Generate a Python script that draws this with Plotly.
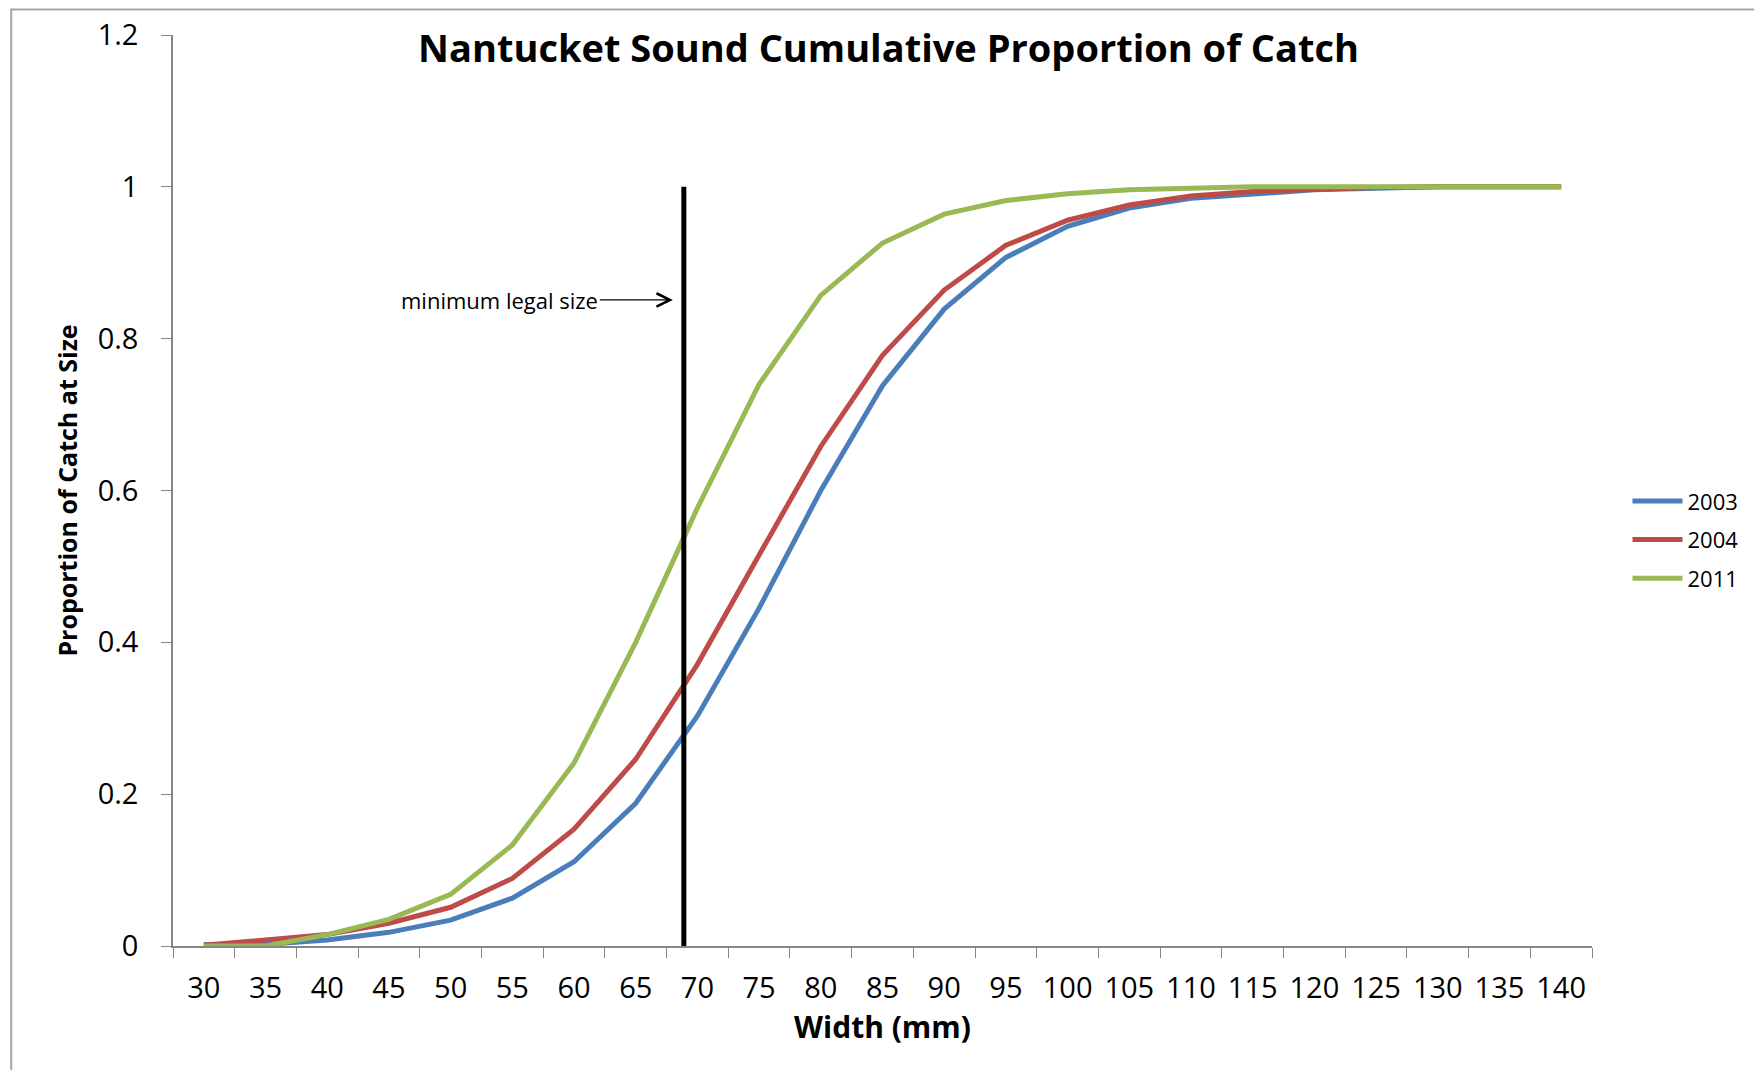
import plotly.graph_objects as go

# ---- data -------------------------------------------------------------
widths_mm = [30, 35, 40, 45, 50, 55, 60, 65, 70, 75, 80, 85, 90, 95, 100,
             105, 110, 115, 120, 125, 130, 135, 140]
tick_labels = [str(w) for w in widths_mm]

prop_2003 = [0.002, 0.002, 0.008, 0.018, 0.034, 0.063, 0.111, 0.188, 0.303,
             0.445, 0.600, 0.738, 0.839, 0.907, 0.948, 0.972, 0.985, 0.991,
             0.996, 0.998, 1.000, 1.000, 1.000]
prop_2004 = [0.001, 0.008, 0.015, 0.030, 0.051, 0.089, 0.154, 0.246, 0.371,
             0.515, 0.658, 0.778, 0.864, 0.923, 0.956, 0.976, 0.988, 0.994,
             0.997, 0.999, 1.000, 1.000, 1.000]
prop_2011 = [0.000, 0.000, 0.015, 0.035, 0.068, 0.133, 0.241, 0.400, 0.577,
             0.740, 0.857, 0.926, 0.964, 0.982, 0.991, 0.996, 0.998, 1.000,
             1.000, 1.000, 1.000, 1.000, 1.000]

series_names = ["2003", "2004", "2011"]
series_values = [prop_2003, prop_2004, prop_2011]
series_colors = ["#4A7EBB", "#BE4B48", "#98B954"]

legal_size_mm = 68.9          # position of the "minimum legal size" marker
legal_label_y = 0.851         # height of the annotation arrow

# category index of the legal-size marker on the category axis
legal_idx = (legal_size_mm - widths_mm[0]) / (widths_mm[1] - widths_mm[0])

FONT = "Open Sans"

fig = go.Figure()
for name, vals, col in zip(series_names, series_values, series_colors):
    fig.add_trace(go.Scatter(
        x=tick_labels, y=vals, mode="lines", name=name, legendgroup=name,
        line=dict(color=col, width=5),
    ))

# vertical legal-size line
fig.add_shape(type="line", xref="x", yref="y", x0=legal_idx, x1=legal_idx,
              y0=-0.013, y1=1.0, line=dict(color="black", width=5))

# annotation with arrow
fig.add_annotation(
    x=legal_idx, y=legal_label_y, xref="x", yref="y",
    text="minimum legal size", showarrow=True,
    ax=-184, ay=0, axref="pixel", ayref="pixel",
    arrowhead=5, arrowsize=2.2, arrowwidth=1.2, arrowcolor="black",
    standoff=11, font=dict(family=FONT, size=22, color="black"),
)

# outer chart border
fig.add_shape(type="rect", xref="paper", yref="paper",
              x0=-0.114, x1=1.13, y0=-0.15, y1=1.028,
              line=dict(color="#A6A6A6", width=2), layer="below")

fig.update_layout(
    width=1754, height=1062,
    margin=dict(l=165, r=170, t=27, b=124),
    paper_bgcolor="white", plot_bgcolor="white",
    font=dict(family=FONT, color="black"),
    title=dict(text="<b>Nantucket Sound Cumulative Proportion of Catch</b>",
               x=0.502, xanchor="center", y=0.962, yanchor="middle",
               font=dict(family=FONT, size=38, color="black")),
    showlegend=True,
    legend=dict(x=1.025, xanchor="left", y=0.446, yanchor="middle",
                font=dict(family=FONT, size=22, color="black"),
                tracegroupgap=7, itemwidth=50, bgcolor="rgba(0,0,0,0)"),
    xaxis=dict(
        type="category", range=[-0.5, len(widths_mm) - 0.5],
        automargin=False,
        tickson="boundaries", ticks="outside", ticklen=10, tickcolor="#868686",
        showline=True, linecolor="#868686", linewidth=1.5,
        showgrid=False, zeroline=False,
        tickfont=dict(family=FONT, size=29, color="black"),
        ticklabelstandoff=15,
        title=dict(text="<b>Width (mm)</b>", standoff=8,
                   font=dict(family=FONT, size=30, color="black")),
    ),
    yaxis=dict(
        range=[0, 1.2], dtick=0.2, tick0=0,
        automargin=False,
        ticks="outside", ticklen=10, tickcolor="#868686",
        showline=True, linecolor="#868686", linewidth=1.5,
        showgrid=False, zeroline=False,
        tickfont=dict(family=FONT, size=29, color="black"),
        ticklabelstandoff=17,
        title=dict(text="<b>Proportion of Catch at Size</b>", standoff=13,
                   font=dict(family=FONT, size=25, color="black")),
    ),
)

fig.write_html("out.html")
